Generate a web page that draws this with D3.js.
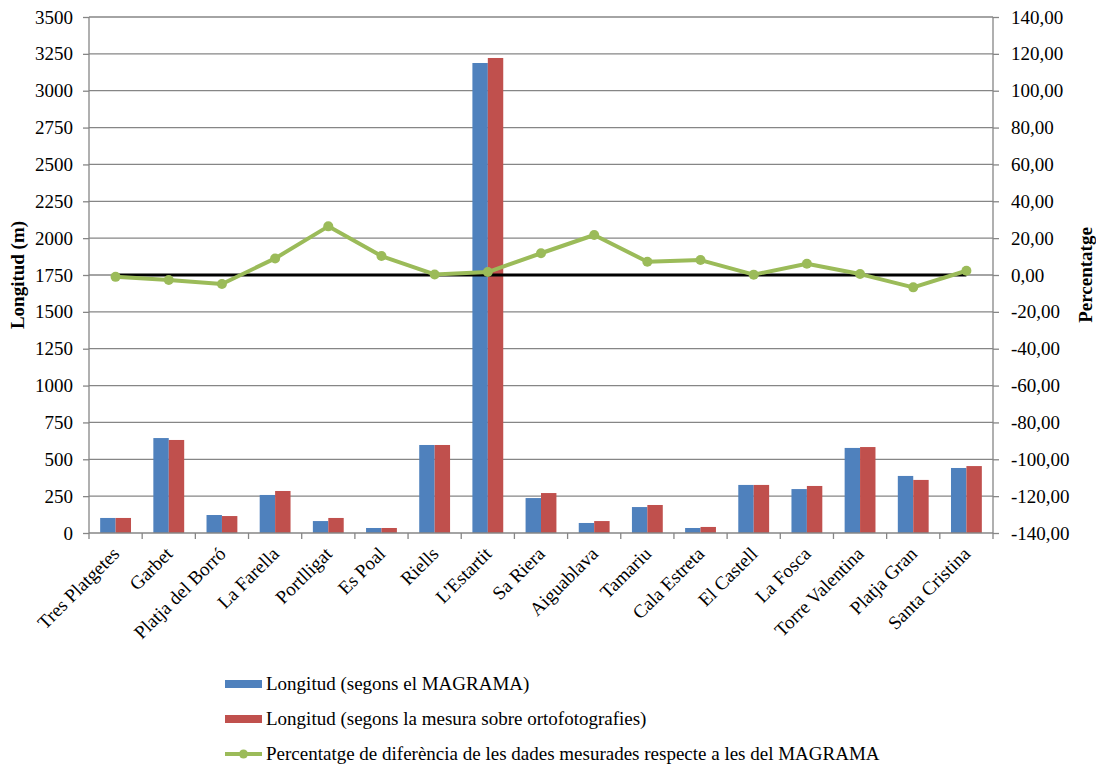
<!DOCTYPE html>
<html>
<head>
<meta charset="utf-8">
<script src="https://cdn.jsdelivr.net/npm/d3@7"></script>
<style>
  html, body { margin: 0; padding: 0; background: #fff; }
  svg { display: block; }
  svg text { font-family: "Liberation Serif", "Times New Roman", serif; }
</style>
</head>
<body>
<svg id="chart" width="1096" height="767"></svg>
<script>
// Beach names (Costa Brava)
const categories = [
  "Tres Platgetes", "Garbet", "Platja del Borró", "La Farella", "Portlligat",
  "Es Poal", "Riells", "L'Estartit", "Sa Riera", "Aiguablava", "Tamariu",
  "Cala Estreta", "El Castell", "La Fosca", "Torre Valentina", "Platja Gran",
  "Santa Cristina"
];

// Length in metres according to MAGRAMA
const longitudMagrama = [102, 644, 122, 258, 81, 34, 597, 3188, 237, 68, 176, 34, 326, 298, 577, 387, 441];

// Length in metres measured on orthophotos
const longitudOrtofoto = [102, 631, 115, 285, 102, 34, 597, 3222, 271, 81, 190, 41, 326, 319, 583, 360, 454];

// Percentage difference between measured and MAGRAMA data
const percentatge = [-1.0, -2.7, -4.9, 9.0, 26.4, 10.3, 0.3, 1.6, 11.8, 21.7, 7.2, 8.1, 0.2, 6.1, 0.5, -6.7, 2.3];

// Zero reference for the percentage axis
const referencia = categories.map(() => 0);

const leftTicks = d3.range(0, 3501, 250);
const rightTicks = d3.range(-140, 141, 20);

const seriesNames = [
  "Longitud (segons el MAGRAMA)",
  "Longitud (segons la mesura sobre ortofotografies)",
  "Percentatge de diferència de les dades mesurades respecte a les del MAGRAMA"
];

const colors = { blue: "#4F81BD", red: "#C0504D", green: "#9BBB59", grid: "#868686" };
const FS = 19;

const svg = d3.select("#chart");
const L = 89, R = 993, T = 17, B = 533;

const x = d3.scaleBand().domain(categories).range([L, R]).paddingInner(0).paddingOuter(0);
const groupW = x.bandwidth() * 0.58;
const x1 = d3.scaleBand().domain(["m", "o"]).range([0, groupW]);
const yL = d3.scaleLinear().domain([0, 3500]).range([B, T]);
const yR = d3.scaleLinear().domain([-140, 140]).range([B, T]);
const cx = (d, i) => x(categories[i]) + x.bandwidth() / 2;

// Horizontal gridlines
svg.append("g")
  .selectAll("line")
  .data(leftTicks.filter(d => d > 0))
  .join("line")
  .attr("x1", L).attr("x2", R)
  .attr("y1", d => yL(d)).attr("y2", d => yL(d))
  .attr("stroke", colors.grid).attr("stroke-width", 1.3);

// Bars
const groups = svg.append("g")
  .selectAll("g")
  .data(categories.map((c, i) => ({ c, m: longitudMagrama[i], o: longitudOrtofoto[i] })))
  .join("g")
  .attr("transform", d => `translate(${x(d.c) + (x.bandwidth() - groupW) / 2},0)`);

groups.append("rect")
  .attr("x", x1("m")).attr("width", x1.bandwidth())
  .attr("y", d => yL(d.m)).attr("height", d => B - yL(d.m))
  .attr("fill", colors.blue);

groups.append("rect")
  .attr("x", x1("o")).attr("width", x1.bandwidth())
  .attr("y", d => yL(d.o)).attr("height", d => B - yL(d.o))
  .attr("fill", colors.red);

// Left axis
const axisLeft = svg.append("g")
  .attr("transform", `translate(${L},0)`)
  .call(d3.axisLeft(yL).tickValues(leftTicks).tickSize(6).tickPadding(10).tickFormat(d3.format("d")));
axisLeft.select(".domain").attr("stroke", colors.grid).attr("stroke-width", 1.3).attr("d", `M0,${T}V${B}`);
axisLeft.selectAll(".tick line").attr("stroke", colors.grid).attr("stroke-width", 1.3);
axisLeft.selectAll(".tick text").attr("font-size", FS).attr("fill", "#000");

// Right axis
const fmtComma = d => d3.format(".2f")(d).replace(".", ",").replace("−", "-");
const axisRight = svg.append("g")
  .attr("transform", `translate(${R},0)`)
  .call(d3.axisRight(yR).tickValues(rightTicks).tickSize(6).tickPadding(12).tickFormat(fmtComma));
axisRight.select(".domain").attr("stroke", colors.grid).attr("stroke-width", 1.3).attr("d", `M0,${T}V${B}`);
axisRight.selectAll(".tick line").attr("stroke", colors.grid).attr("stroke-width", 1.3);
axisRight.selectAll(".tick text").attr("font-size", FS).attr("fill", "#000");

// Bottom axis: ticks at category boundaries
const bottom = svg.append("g");
bottom.append("line")
  .attr("x1", L).attr("x2", R).attr("y1", B).attr("y2", B)
  .attr("stroke", colors.grid).attr("stroke-width", 1.3);
bottom.selectAll("line.tk")
  .data(categories.map(c => x(c)).concat([R]))
  .join("line").attr("class", "tk")
  .attr("x1", d => d).attr("x2", d => d).attr("y1", B).attr("y2", B + 6)
  .attr("stroke", colors.grid).attr("stroke-width", 1.3);
bottom.selectAll("text")
  .data(categories)
  .join("text")
  .attr("transform", d => `translate(${x(d) + x.bandwidth() / 2 + 5},${B + 22}) rotate(-45)`)
  .attr("text-anchor", "end")
  .attr("font-size", FS)
  .attr("fill", "#000")
  .text(d => d);

// Zero reference line on the percentage axis
svg.append("path")
  .datum(referencia)
  .attr("fill", "none").attr("stroke", "#000").attr("stroke-width", 3)
  .attr("d", d3.line().x(cx).y(d => yR(d)));

// Percentage line with markers
svg.append("path")
  .datum(percentatge)
  .attr("fill", "none").attr("stroke", colors.green).attr("stroke-width", 4)
  .attr("stroke-linejoin", "round")
  .attr("d", d3.line().x(cx).y(d => yR(d)));
svg.append("g")
  .selectAll("circle")
  .data(percentatge)
  .join("circle")
  .attr("cx", cx)
  .attr("cy", d => yR(d))
  .attr("r", 5)
  .attr("fill", colors.green);

// Axis titles
svg.append("text")
  .attr("transform", `translate(24,${(T + B) / 2}) rotate(-90)`)
  .attr("text-anchor", "middle")
  .attr("font-size", FS).attr("font-weight", "bold")
  .text("Longitud (m)");
svg.append("text")
  .attr("transform", `translate(1092,${(T + B) / 2}) rotate(-90)`)
  .attr("text-anchor", "middle")
  .attr("font-size", FS).attr("font-weight", "bold")
  .text("Percentatge");

// Legend
const legend = svg.append("g").attr("transform", "translate(225,0)");
const rows = [684, 719, 754];
legend.append("rect").attr("x", 0).attr("y", rows[0] - 4).attr("width", 37).attr("height", 8).attr("fill", colors.blue);
legend.append("rect").attr("x", 0).attr("y", rows[1] - 4).attr("width", 37).attr("height", 8).attr("fill", colors.red);
legend.append("line").attr("x1", 0).attr("x2", 37).attr("y1", rows[2]).attr("y2", rows[2])
  .attr("stroke", colors.green).attr("stroke-width", 4);
legend.append("circle").attr("cx", 18.5).attr("cy", rows[2]).attr("r", 4.5).attr("fill", colors.green);
legend.selectAll("text")
  .data(seriesNames)
  .join("text")
  .attr("x", 41)
  .attr("y", (d, i) => rows[i] + 6)
  .attr("font-size", FS)
  .attr("fill", "#000")
  .text(d => d);
</script>
</body>
</html>
